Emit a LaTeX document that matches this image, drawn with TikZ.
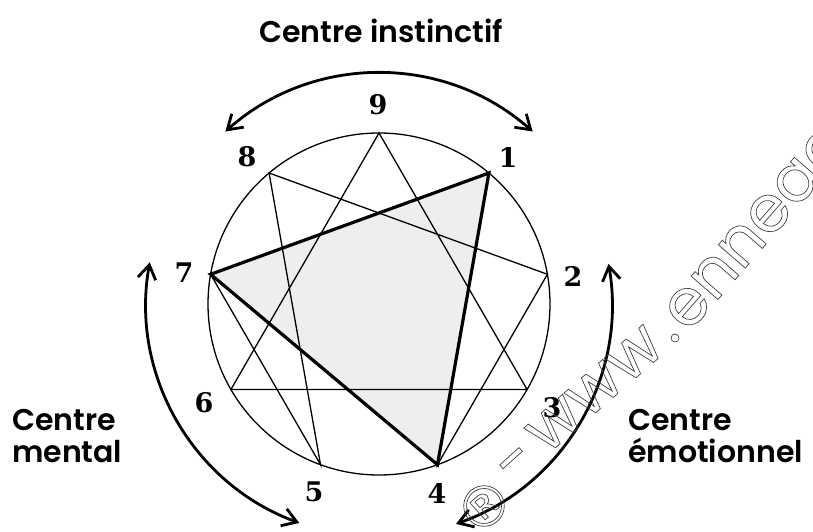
\documentclass[tikz,border=0pt]{standalone}
\usepackage{fontspec}
\IfFontExistsTF{Poppins SemiBold}
  {\setmainfont{Poppins SemiBold}}
  {\setmainfont{Poppins}[UprightFont=*, BoldFont=* Bold]}
\newfontfamily\digitfont{DejaVu Serif}
\newfontfamily\regfont{DejaVu Sans}
\newfontfamily\wmfont{Poppins}
\usetikzlibrary{arrows.meta}
\definecolor{trigray}{HTML}{EEEEEE}
\definecolor{wmgray}{HTML}{404040}
\newcommand{\outlined}[1]{\special{pdf:literal direct 1 Tr 0.7 w}#1\special{pdf:literal direct 0 Tr}}
\begin{document}
\begin{tikzpicture}[x=1pt,y=1pt,
  thinline/.style={line width=1.3pt, line join=miter},
  boldline/.style={line width=3.2pt, line join=miter},
  arcarrow/.style={line width=2.8pt, {Straight Barb[length=14pt,width=18pt]}-{Straight Barb[length=14pt,width=18pt]}},
  digit/.style={font=\digitfont\bfseries\fontsize{27}{27}\selectfont, inner sep=0pt},
  centre/.style={font=\fontsize{30}{32}\selectfont, align=left, inner sep=0pt},
  wmark/.style={font=\wmfont\fontsize{65}{65}\selectfont, inner sep=0pt, text=wmgray}]
\useasboundingbox (0,0) rectangle (813,531);
\coordinate (c) at (379,227);
\foreach \k in {1,...,9} \path (c) ++({90-40*\k}:171) coordinate (p\k);
% shaded triangle
\fill[trigray] (p1) -- (p4) -- (p7) -- cycle;
% thin figure
\draw[thinline] (p9) -- (p3) -- (p6) -- cycle;
\draw[thinline] (p1) -- (p4) -- (p2) -- (p8) -- (p5) -- (p7) -- cycle;
\draw[boldline] (p1) -- (p4) -- (p7) -- cycle;
\draw[thinline] (c) circle[radius=171];
% digits
\node[digit] (n9) at (378,426) {9};
\node[digit] (n8) at (247,374) {8};
\node[digit] (n1) at (508,374) {1};
\node[digit] (n2) at (573,255) {2};
\node[digit] (n3) at (552,123) {3};
\node[digit] (n4) at (437,38) {4};
\node[digit] (n5) at (314,39) {5};
\node[digit] (n6) at (204,128) {6};
\node[digit] (n7) at (184,258) {7};
% centre arcs
\draw[arcarrow] (c) ++(131.7:231) arc[start angle=131.7, end angle=48.3, radius=231];
\draw[arcarrow] (c) ++(169.7:233) arc[start angle=169.7, end angle=250, radius=233];
\draw[arcarrow] (c) ++(9.9:233) arc[start angle=9.9, end angle=-70.7, radius=233];
% titles
\node[centre, anchor=base] (ti) at (381,488) {Centre instinctif};
\node[centre, anchor=base west] (tm) at (12,69) {Centre\\mental};
\node[centre, anchor=base west] (te) at (628,69) {Centre\\émotionnel};
% watermark
\begin{scope}
\clip (0,0) rectangle (813,531);
\node[wmark, font=\regfont\fontsize{56}{56}\selectfont, rotate=42] (wr) at (484,25) {\outlined{®}};
\node[wmark, rotate=42, anchor=mid] (wd) at (526,58) {\outlined{-}};
\node[wmark, rotate=41, anchor=mid] (ww) at (605,130) {\outlined{www}};
\node[wmark, rotate=42, anchor=center] (wp) at (675,193) {\outlined{.}};
\node[wmark, rotate=49, anchor=mid west] (wn) at (686,199) {\outlined{enneag}};
\end{scope}
\end{tikzpicture}
\end{document}
